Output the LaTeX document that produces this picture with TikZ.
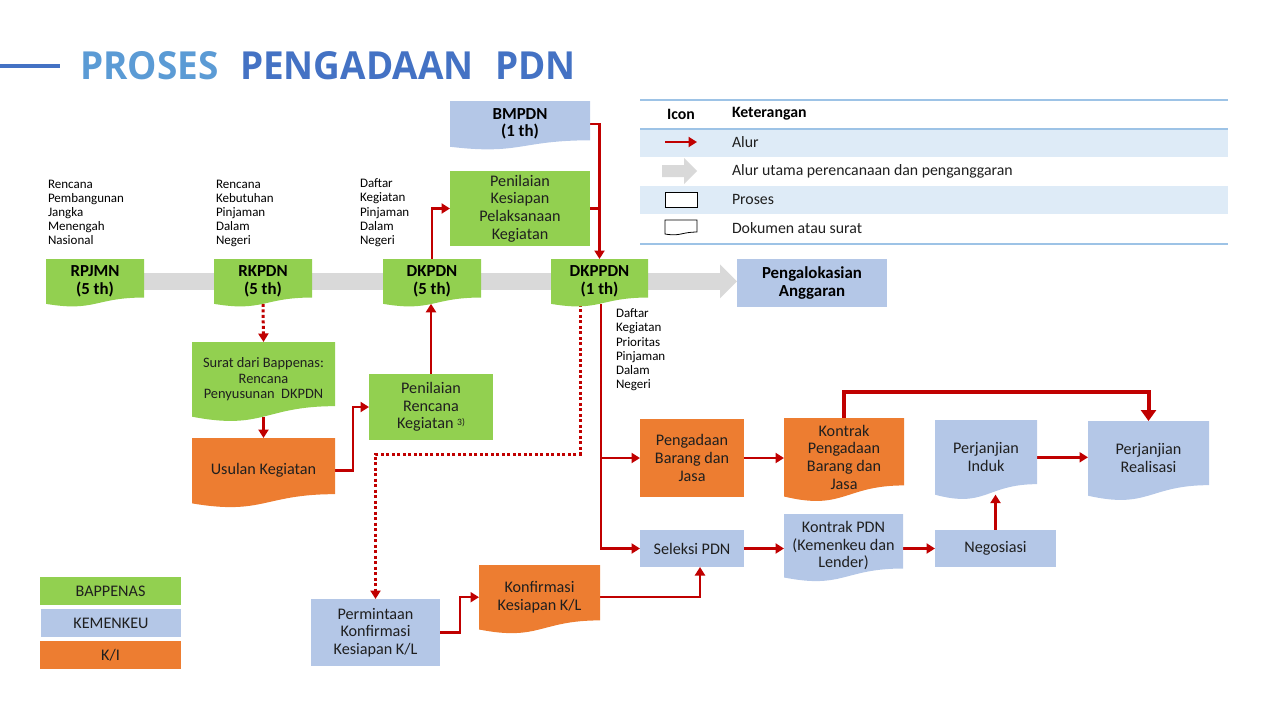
\documentclass[tikz,border=0pt]{standalone}
\usepackage{fontspec}
\setmainfont{Carlito}
\newfontfamily\titlefont{Open Sans}
\usetikzlibrary{arrows.meta,calc}
\definecolor{bgreen}{HTML}{92D050}
\definecolor{bblue}{HTML}{B4C7E7}
\definecolor{borange}{HTML}{ED7D31}
\definecolor{ared}{HTML}{C00000}
\definecolor{agray}{HTML}{D9D9D9}
\definecolor{tblue}{HTML}{4472C4}
\definecolor{tlblue}{HTML}{5B9BD5}
\definecolor{lline}{HTML}{9DC3E6}
\definecolor{lshade}{HTML}{DEEBF7}
\definecolor{txt}{HTML}{1F1F1F}
\pgfdeclarelayer{lines}
\pgfdeclarelayer{shapes}
\pgfsetlayers{lines,shapes,main}
\newcommand\docpath[1]{(#1.north west) -- (#1.north east) -- ($(#1.north east)!0.86!(#1.south east)$) .. controls ($(#1.north)!0.86!(#1.south)$) and ($(#1.north)!1.1865!(#1.south)$) .. ($(#1.north west)!1.001!(#1.south west)$) -- cycle}
% style, x1, y1, x2, y2, name, text
\newcommand\bnode[7]{\node[#1, minimum width={(#4-#2)*0.02cm}, minimum height={(#5-#3)*0.02cm}] (#6) at ({(#2+#4)/2},{(#3+#5)/2}) {#7};}
\begin{document}
\begin{tikzpicture}[x=0.02cm,y=-0.02cm,
  box/.style={inner sep=0pt, outer sep=0pt, align=center, text=txt, font=\fontsize{9.2}{10.1}\selectfont},
  lbl/.style={box, text=black, font=\fontsize{9.6}{9.8}\selectfont\bfseries},
  note/.style={inner sep=0pt, outer sep=0pt, align=left, anchor=north west, text=black, font=\fontsize{7.4}{8}\selectfont},
  flow/.style={draw=ared, line width=0.05cm, -{Triangle[width=0.2cm,length=0.17cm]}},
  link/.style={draw=ared, line width=0.05cm},
  dotflow/.style={flow, dash pattern=on 0.06cm off 0.05cm, line width=0.06cm},
  bigflow/.style={draw=ared, line width=0.08cm, -{Triangle[width=0.3cm,length=0.22cm]}},
  mainflow/.style={draw=agray, line width=0.34cm, -{Triangle[width=0.66cm,length=0.34cm]}},
  legtxt/.style={inner sep=0pt, outer sep=0pt, anchor=west, font=\fontsize{9}{10}\selectfont, text=txt},
  leghead/.style={legtxt, text=black, font=\fontsize{9}{10}\selectfont\bfseries}
]
\useasboundingbox (0,0) rectangle (1280,720);

% title
\coordinate (tl1) at (0,66);
\coordinate (tl2) at (60,66);
\draw[tblue, line width=0.08cm] (tl1) -- (tl2);
\node[inner sep=0pt, anchor=west, font=\titlefont\bfseries\fontsize{22}{24}\selectfont] (title) at (80,66)
  {\scalebox{0.955}[1]{\textcolor{tlblue}{PROSES}\hspace{0.45cm}\textcolor{tblue}{PENGADAAN\hspace{0.45cm}PDN}}};

% legend table
\fill[lshade] (640,130) rectangle (1228,157);
\fill[lshade] (640,186) rectangle (1228,214);
\draw[lline, line width=0.03cm] (640,100) -- (1228,100);
\draw[lline, line width=0.05cm] (640,129) -- (1228,129);
\draw[lline, line width=0.04cm] (640,244) -- (1228,244);
\node[leghead, anchor=center] (lh1) at (681,114) {Icon};
\node[leghead] (lh2) at (732,114) {Keterangan};
\coordinate (la1) at (665,142);
\coordinate (la2) at (697,142);
\draw[flow] (la1) -- (la2);
\fill[agray] (662,165) -- (684,165) -- (684,158) -- (697,171) -- (684,184) -- (684,177) -- (662,177) -- cycle;
\bnode{box, draw=black, fill=white, line width=0.45pt}{665}{192}{697}{207}{legproc}{}
\bnode{box}{665}{220}{697}{234}{legdoc}{}
\draw[black, line width=0.45pt, fill=white] \docpath{legdoc};
\node[legtxt] (lt1) at (732,142) {Alur};
\node[legtxt] (lt2) at (732,171) {Alur utama perencanaan dan penganggaran};
\node[legtxt] (lt3) at (732,199) {Proses};
\node[legtxt] (lt4) at (732,228) {Dokumen atau surat};

% colour legend
\bnode{box, fill=bgreen}{40}{577}{181}{605}{bap}{BAPPENAS}
\bnode{box, fill=bblue}{41}{609}{181}{637}{kem}{KEMENKEU}
\bnode{box, fill=borange}{40}{641}{181}{669}{ki}{K/I}

% notes
\node[note] (n1) at (48,180) {Rencana\\Pembangunan\\Jangka\\Menengah\\Nasional};
\node[note] (n2) at (216,180) {Rencana\\Kebutuhan\\Pinjaman\\Dalam\\Negeri};
\node[note] (n3) at (360,179) {Daftar\\Kegiatan\\Pinjaman\\Dalam\\Negeri};
\node[note] (n4) at (616,309) {Daftar\\Kegiatan\\Prioritas\\Pinjaman\\Dalam\\Negeri};

% document nodes
\bnode{lbl}{46}{259}{144}{303.8}{rpjmn}{RPJMN\\(5 th)}
\bnode{lbl}{214}{259}{312}{303.8}{rkpdn}{RKPDN\\(5 th)}
\bnode{lbl}{383}{259}{481}{303.8}{dkpdn}{DKPDN\\(5 th)}
\bnode{lbl}{551}{259}{648}{303.8}{dkppdn}{DKPPDN\\(1 th)}
\bnode{lbl}{450}{101}{590}{146.7}{bmpdn}{BMPDN\\(1 th)}
\bnode{box, font=\fontsize{8.2}{9}\selectfont}{192}{342}{335}{416.6}{surat}{Surat dari Bappenas:\\Rencana\\Penyusunan\ \ DKPDN}
\bnode{box}{192}{438}{335}{503.3}{usul}{Usulan Kegiatan}
\bnode{box}{479}{565}{600}{629.4}{konf}{Konfirmasi\\Kesiapan K/L}
\bnode{box}{784}{418}{904}{496.4}{kpbj}{Kontrak\\Pengadaan\\Barang dan\\Jasa}
\bnode{box}{935}{420}{1037}{494.6}{pinduk}{Perjanjian\\Induk}
\bnode{box}{1088}{421}{1209}{495.6}{preal}{Perjanjian\\Realisasi}
\bnode{box}{784}{514}{903}{577.4}{kpdn}{Kontrak PDN\\(Kemenkeu dan\\Lender)}

\begin{pgfonlayer}{shapes}
\fill[bgreen] \docpath{rpjmn};
\fill[bgreen] \docpath{rkpdn};
\fill[bgreen] \docpath{dkpdn};
\fill[bgreen] \docpath{dkppdn};
\fill[bblue] \docpath{bmpdn};
\fill[bgreen] \docpath{surat};
\fill[borange] \docpath{usul};
\fill[borange] \docpath{konf};
\fill[borange] \docpath{kpbj};
\fill[bblue] \docpath{pinduk};
\fill[bblue] \docpath{preal};
\fill[bblue] \docpath{kpdn};
\end{pgfonlayer}

% process nodes
\bnode{box, fill=bgreen}{450}{171}{590}{246}{pksp}{Penilaian\\Kesiapan\\Pelaksanaan\\Kegiatan}
\bnode{box, fill=bgreen}{369}{374}{493}{440}{prk}{Penilaian\\Rencana\\Kegiatan \raisebox{2pt}{\fontsize{5.5}{6}\selectfont 3)}}
\bnode{lbl, fill=bblue}{737}{259}{887}{307}{alok}{Pengalokasian\\Anggaran}
\bnode{box, fill=bblue}{311}{599}{440}{666}{pkk}{Permintaan\\Konfirmasi\\Kesiapan K/L}
\bnode{box, fill=borange}{640}{419}{744}{497}{pbj}{Pengadaan\\Barang dan\\Jasa}
\bnode{box, fill=bblue}{640}{530}{744}{567}{sel}{Seleksi PDN}
\bnode{box, fill=bblue}{935}{530}{1056}{567}{neg}{Negosiasi}

\coordinate (dj) at (580,454);

\begin{pgfonlayer}{lines}
\draw[mainflow] (rpjmn.center) -- (rpjmn.center -| alok.west);
\draw[flow] (bmpdn.east) -| (dkppdn.north);
\draw[link] (pksp.east) -- (pksp.east -| dkppdn.north);
\draw[flow] (dkpdn.north) |- (pksp.west);
\draw[dotflow] (rkpdn.south) -- (surat.north);
\draw[flow] (surat.south) -- (usul.north);
\draw[flow] (usul.east) -- ++(18,0) |- (prk.west);
\draw[flow] (prk.north) -- (prk.north |- dkpdn.south);
\draw[dotflow] (dkppdn.south -| dj) -- (dj) -| (pkk.north);
\draw[flow] ([xshift=0.03cm]dkppdn.south) |- (sel.west);
\draw[flow] ([xshift=0.03cm]dkppdn.south) |- (pbj.west);
\draw[flow] (pkk.east) -- ++(20,0) |- (konf.west);
\draw[flow] (konf.east) -| ([xshift=0.16cm]sel.south);
\draw[flow] (pbj.east) -- (pbj.east -| kpbj.west);
\draw[flow] (sel.east) -- (sel.east -| kpdn.west);
\draw[flow] (neg.west -| kpdn.east) -- (neg.west);
\draw[flow] (neg.north) -- (neg.north |- pinduk.south);
\draw[flow] (pinduk.east) -- (pinduk.east -| preal.west);
\draw[bigflow] (kpbj.north) -- ++(0,-26) -| (preal.north);
\end{pgfonlayer}
\end{tikzpicture}
\end{document}
